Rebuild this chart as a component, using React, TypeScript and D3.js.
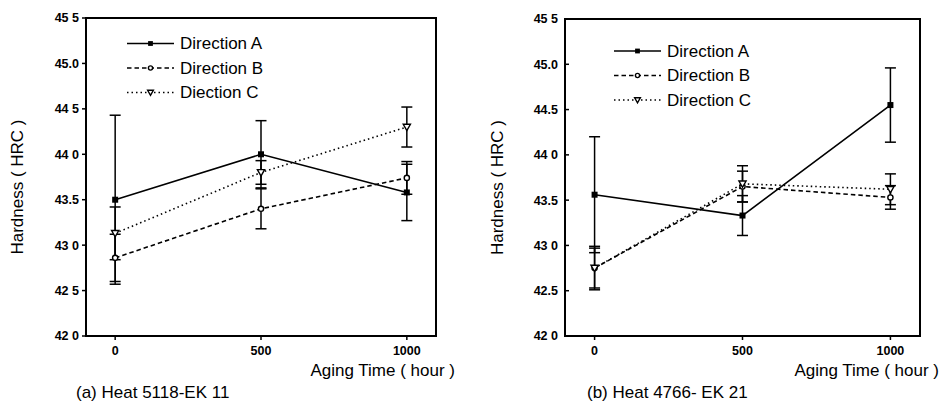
import React from "react";
import * as d3 from "d3";

const agingTimes = [0, 500, 1000];
const xTickValues = [0, 500, 1000];
const xTickLabels = ["0", "500", "1000"];
const yTickValues = [42.0, 42.5, 43.0, 43.5, 44.0, 44.5, 45.0, 45.5];
const leftYTickLabels = ["42 0", "42 5", "43 0", "43.5", "44 0", "44 5", "45.0", "45 5"];
const rightYTickLabels = ["42 0", "42.5", "43 0", "43.5", "44 0", "44.5", "45.0", "45 5"];

const leftLegend = ["Direction A", "Direction B", "Diection C"];
const rightLegend = ["Direction A", "Direction B", "Direction C"];

// Panel (a) Heat 5118-EK 11
const leftA = [43.5, 44.0, 43.58];
const leftAErr = [0.93, 0.37, 0.31];
const leftB = [42.86, 43.4, 43.74];
const leftBErr = [0.26, 0.22, 0.18];
const leftC = [43.13, 43.8, 44.3];
const leftCErr = [0.29, 0.13, 0.22];

// Panel (b) Heat 4766- EK 21
const rightA = [43.56, 43.33, 44.55];
const rightAErr = [0.64, 0.22, 0.41];
const rightB = [42.75, 43.65, 43.53];
const rightBErr = [0.22, 0.17, 0.13];
const rightC = [42.75, 43.68, 43.62];
const rightCErr = [0.24, 0.2, 0.17];

const FONT = "'Liberation Sans', Arial, Helvetica, sans-serif";

type Series = { values: number[]; errs: number[]; kind: "A" | "B" | "C" };

const dashFor = (k: string) => (k === "A" ? undefined : k === "B" ? "4.5,3" : "1.5,3");

function Marker({ kind, x, y, s = 1 }: { kind: string; x: number; y: number; s?: number }) {
  if (kind === "A") return <rect x={x - 3 * s} y={y - 3 * s} width={6 * s} height={6 * s} fill="#000" />;
  if (kind === "B") return <circle cx={x} cy={y} r={2.6 * s} fill="#fff" stroke="#000" strokeWidth={1.4} />;
  return (
    <path
      d={`M${x - 3.6 * s},${y - 2.8 * s} L${x + 3.6 * s},${y - 2.8 * s} L${x},${y + 3.6 * s} Z`}
      fill="#fff"
      stroke="#000"
      strokeWidth={1.4}
    />
  );
}

function Panel(props: {
  x0: number; x1: number; y0: number; y1: number;
  series: Series[]; yLabels: string[]; legend: string[];
  legendX: number; legendY: number; caption: string; captionX: number;
  inwardY: boolean; yLabelX: number;
}) {
  const { x0, x1, y0, y1, series, yLabels, legend, legendX, legendY, caption, captionX, inwardY, yLabelX } = props;
  const x = d3.scaleLinear().domain([-100, 1100]).range([x0, x1]);
  const y = d3.scaleLinear().domain([42, 45.5]).range([y1, y0]);
  const line = d3.line<number>().x((_, i) => x(agingTimes[i])).y((v) => y(v));
  const capW = 5.5;
  return (
    <g>
      {series.map((s, si) => (
        <path key={"l" + si} d={line(s.values) || ""} fill="none" stroke="#000"
          strokeWidth={1.6} strokeDasharray={dashFor(s.kind)} />
      ))}
      {series.map((s, si) =>
        s.values.map((v, i) => {
          const cx = x(agingTimes[i]);
          const yt = y(v + s.errs[i]);
          const yb = y(v - s.errs[i]);
          return (
            <g key={"e" + si + "-" + i} stroke="#000" strokeWidth={1.5}>
              <line x1={cx} x2={cx} y1={yt} y2={yb} />
              <line x1={cx - capW} x2={cx + capW} y1={yt} y2={yt} />
              <line x1={cx - capW} x2={cx + capW} y1={yb} y2={yb} />
            </g>
          );
        })
      )}
      {series.map((s, si) =>
        s.values.map((v, i) => <Marker key={"m" + si + "-" + i} kind={s.kind} x={x(agingTimes[i])} y={y(v)} />)
      )}
      <rect x={x0} y={y0} width={x1 - x0} height={y1 - y0} fill="none" stroke="#000" strokeWidth={2} />
      {yTickValues.map((t, i) => (
        <g key={"yt" + i}>
          <line x1={inwardY ? x0 : x0 - 4} x2={inwardY ? x0 + 4 : x0} y1={y(t)} y2={y(t)} stroke="#000" strokeWidth={1.5} />
          <text x={x0 - 7} y={y(t)} dy="0.35em" textAnchor="end" fontSize={12.5} fontWeight="bold" fontFamily={FONT}>
            {yLabels[i]}
          </text>
        </g>
      ))}
      {xTickValues.map((t, i) => (
        <g key={"xt" + i}>
          <line x1={x(t)} x2={x(t)} y1={y1} y2={y1 + 4} stroke="#000" strokeWidth={1.5} />
          <text x={x(t)} y={y1 + 19} textAnchor="middle" fontSize={12.5} fontWeight="bold" fontFamily={FONT}>
            {xTickLabels[i]}
          </text>
        </g>
      ))}
      <text x={x1 + 19} y={y1 + 40} textAnchor="end" fontSize={17} fontFamily={FONT}>Aging Time ( hour )</text>
      <text transform={`translate(${yLabelX},${(y0 + y1) / 2 + 10}) rotate(-90)`} textAnchor="middle" fontSize={17} fontFamily={FONT}>
        Hardness ( HRC )
      </text>
      <text x={captionX} y={398} fontSize={17} fontFamily={FONT}>{caption}</text>
      {series.map((s, i) => {
        const ly = legendY + i * 24.5;
        return (
          <g key={"lg" + i}>
            <line x1={legendX} x2={legendX + 47} y1={ly} y2={ly} stroke="#000" strokeWidth={1.6} strokeDasharray={dashFor(s.kind)} />
            <Marker kind={s.kind} x={legendX + 23.5} y={ly} s={0.8} />
            <text x={legendX + 53} y={ly} dy="0.35em" fontSize={17} fontFamily={FONT}>{legend[i]}</text>
          </g>
        );
      })}
    </g>
  );
}

export default function App() {
  const leftSeries: Series[] = [
    { values: leftA, errs: leftAErr, kind: "A" },
    { values: leftB, errs: leftBErr, kind: "B" },
    { values: leftC, errs: leftCErr, kind: "C" },
  ];
  const rightSeries: Series[] = [
    { values: rightA, errs: rightAErr, kind: "A" },
    { values: rightB, errs: rightBErr, kind: "B" },
    { values: rightC, errs: rightCErr, kind: "C" },
  ];
  return (
    <svg width={943} height={403} style={{ position: "absolute", left: 0, top: 0, background: "#fff" }}>
      <rect width={943} height={403} fill="#fff" />
      <Panel x0={86} x1={436} y0={18} y1={336} series={leftSeries} yLabels={leftYTickLabels}
        legend={leftLegend} legendX={127} legendY={43.5} caption="(a) Heat 5118-EK 11" captionX={76}
        inwardY={false} yLabelX={23} />
      <Panel x0={565} x1={920} y0={19} y1={336} series={rightSeries} yLabels={rightYTickLabels}
        legend={rightLegend} legendX={614} legendY={51} caption="(b) Heat 4766- EK 21" captionX={587}
        inwardY={true} yLabelX={503} />
    </svg>
  );
}
